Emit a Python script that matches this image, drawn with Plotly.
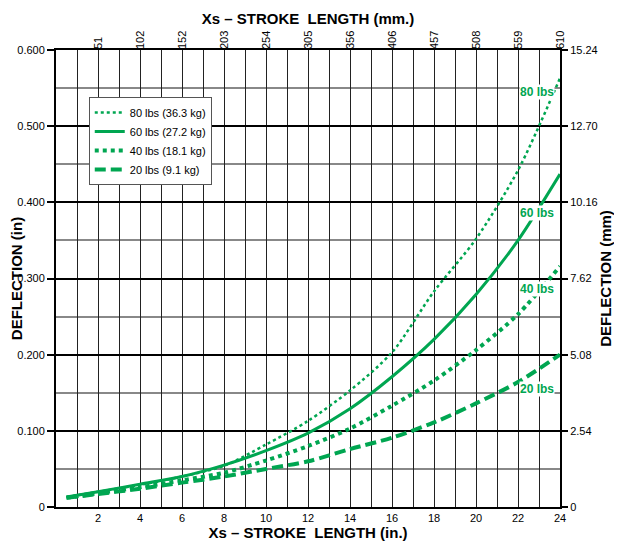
import plotly.graph_objects as go

# stroke length (in.) and deflection (in.)
stroke_in = [0.5, 2, 4, 6, 8, 10, 12, 14, 16, 18, 20, 22, 24]
defl_80lbs = [0.013, 0.020, 0.029, 0.040, 0.054, 0.082, 0.113, 0.153, 0.203, 0.283, 0.352, 0.442, 0.563]
defl_60lbs = [0.013, 0.020, 0.030, 0.040, 0.055, 0.074, 0.097, 0.129, 0.171, 0.220, 0.279, 0.350, 0.437]
defl_40lbs = [0.012, 0.018, 0.026, 0.035, 0.045, 0.061, 0.080, 0.103, 0.133, 0.166, 0.206, 0.253, 0.316]
defl_20lbs = [0.012, 0.017, 0.024, 0.032, 0.040, 0.050, 0.060, 0.076, 0.091, 0.111, 0.136, 0.164, 0.200]

series_names = ["80 lbs (36.3 kg)", "60 lbs (27.2 kg)", "40 lbs (18.1 kg)", "20 lbs (9.1 kg)"]
end_labels = ["80 lbs", "60 lbs", "40 lbs", "20 lbs"]

x_ticks = list(range(1, 25))
x_ticktext = [str(v) if v % 2 == 0 else "" for v in x_ticks]
mm_ticks = list(range(2, 25, 2))
mm_ticktext = ["51", "102", "152", "203", "254", "305", "356", "406", "457", "508", "559", "610"]
y_ticks = [0, 0.1, 0.2, 0.3, 0.4, 0.5, 0.6]
y_ticktext = ["0", "0.100", "0.200", "0.300", "0.400", "0.500", "0.600"]
ymm_ticks = [0, 2.54, 5.08, 7.62, 10.16, 12.70, 15.24]
ymm_ticktext = ["0", "2.54", "5.08", "7.62", "10.16", "12.70", "15.24"]

GREEN = "#00a651"
FONT = "Liberation Sans Narrow, Liberation Sans, Arial, sans-serif"

fig = go.Figure()
styles = [
    dict(dash="dot", width=2.5),
    dict(dash="solid", width=3),
    dict(dash="4px,4px", width=4),
    dict(dash="11px,5px", width=4),
]
for name, ys, st in zip(series_names, [defl_80lbs, defl_60lbs, defl_40lbs, defl_20lbs], styles):
    fig.add_trace(go.Scatter(x=stroke_in, y=ys, mode="lines", name=name,
                             line=dict(color=GREEN, shape="spline", smoothing=0.8, **st)))

# same 80 lbs curve in mm on the secondary axes (invisible, just keeps top/right axes drawn)
fig.add_trace(go.Scatter(x=stroke_in, y=[v * 25.4 for v in defl_80lbs], xaxis="x2", yaxis="y2",
                         mode="lines", line=dict(width=0), opacity=0,
                         showlegend=False, hoverinfo="skip"))

# labels at the end of each curve
label_y = [0.545, 0.386, 0.286, 0.155]
for txt, ly in zip(end_labels, label_y):
    fig.add_annotation(x=22.9, y=ly, text="<b>" + txt + "</b>", showarrow=False,
                       font=dict(color=GREEN, size=12, family=FONT),
                       bgcolor="white", borderpad=0)

# page body has an 8px margin, so the figure is 8px smaller than the window
fig.update_layout(
    width=614, height=538,
    margin=dict(l=48, r=62, t=42, b=39),
    paper_bgcolor="white", plot_bgcolor="white",
    font=dict(family=FONT, size=11, color="black"),
    showlegend=True,
    legend=dict(x=0.065, y=0.897, xanchor="left", yanchor="top",
                bgcolor="white", bordercolor="#555", borderwidth=1,
                font=dict(size=11), tracegroupgap=0, itemwidth=30),
    xaxis=dict(range=[0, 24], tickmode="array", tickvals=x_ticks, ticktext=x_ticktext,
               showgrid=True, gridcolor="#222", gridwidth=1.2, automargin=False,
               showline=True, linecolor="black", linewidth=2, mirror=True,
               ticks="", zeroline=False,
               title=dict(text="<b>Xs – STROKE  LENGTH (in.)</b>", font=dict(size=15), standoff=0)),
    xaxis2=dict(range=[0, 24], overlaying="x", side="top", tickmode="array",
                tickvals=mm_ticks, ticktext=mm_ticktext, tickangle=-90, automargin=False,
                showgrid=False, ticks="", zeroline=False,
                title=dict(text="<b>Xs – STROKE  LENGTH (mm.)</b>", font=dict(size=15), standoff=2)),
    yaxis=dict(range=[0, 0.6], tickmode="array", tickvals=y_ticks, ticktext=y_ticktext,
               showgrid=True, gridcolor="black", gridwidth=2, automargin=False,
               minor=dict(dtick=0.05, tick0=0, showgrid=True, gridcolor="#888", gridwidth=1.5),
               showline=True, linecolor="black", linewidth=2, mirror=True,
               ticks="outside", ticklen=7, tickwidth=2, tickcolor="black", zeroline=False,
               title=dict(text="<b>DEFLECTION (in)</b>", font=dict(size=15), standoff=2)),
    yaxis2=dict(range=[0, 15.24], overlaying="y", side="right", tickmode="array",
                tickvals=ymm_ticks, ticktext=ymm_ticktext, showgrid=False, automargin=False,
                ticks="outside", ticklen=7, tickwidth=2, tickcolor="black", zeroline=False,
                title=dict(text="<b>DEFLECTION (mm)</b>", font=dict(size=15), standoff=3)),
)

fig.write_html("out.html")
